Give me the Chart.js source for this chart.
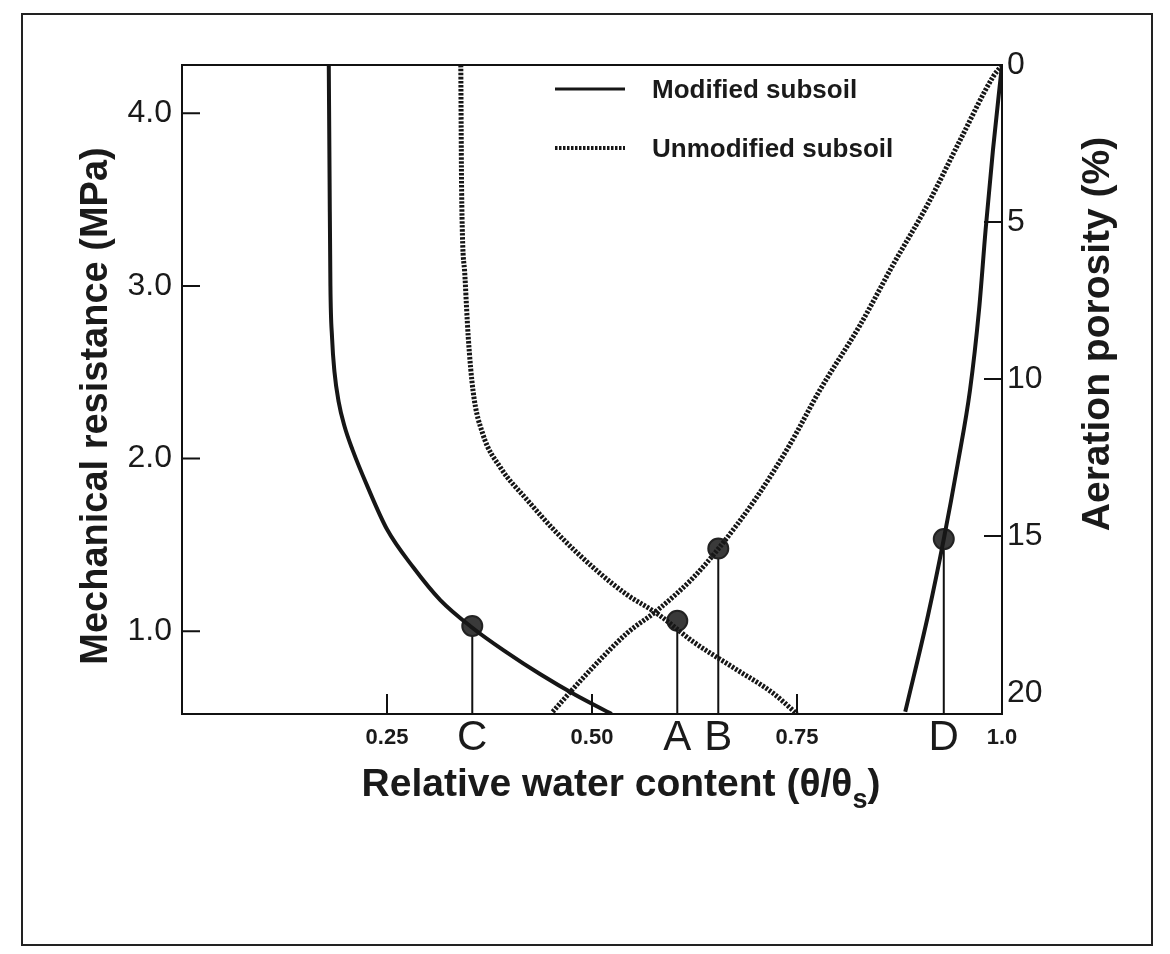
<!DOCTYPE html>
<html lang="en">
<head>
<meta charset="UTF-8">
<title>Mechanical resistance and aeration porosity</title>
<script src="https://cdn.jsdelivr.net/npm/chart.js"></script>
<style>
  html, body { margin: 0; padding: 0; background: #fff; }
  #wrap { width: 1170px; height: 954px; }
</style>
</head>
<body>
<div id="wrap"><canvas id="chart" width="1170" height="954"></canvas></div>
<script>
// relative water content (theta / theta_s) on x
// mechanical resistance (MPa), left axis
const modifiedResX   = [0.179, 0.180, 0.181, 0.183, 0.186, 0.191, 0.198, 0.208, 0.226, 0.250, 0.282, 0.315, 0.354, 0.395, 0.437, 0.480, 0.524];
const modifiedRes    = [4.28, 3.60, 3.00, 2.70, 2.50, 2.33, 2.19, 2.05, 1.84, 1.59, 1.37, 1.18, 1.02, 0.88, 0.75, 0.63, 0.52];
const unmodifiedResX = [0.340, 0.341, 0.345, 0.349, 0.355, 0.367, 0.388, 0.421, 0.457, 0.506, 0.543, 0.580, 0.623, 0.672, 0.721, 0.750];
const unmodifiedRes  = [4.28, 3.55, 3.06, 2.71, 2.39, 2.14, 1.95, 1.76, 1.57, 1.35, 1.21, 1.10, 0.94, 0.79, 0.64, 0.52];

// aeration porosity (%), right axis (reversed)
const modifiedPorX   = [0.882, 0.910, 0.929, 0.946, 0.961, 0.972, 0.980, 0.989, 1.0];
const modifiedPor    = [20.6, 17.5, 15.1, 12.7, 10.35, 7.8, 5.25, 2.7, 0];
const unmodifiedPorX = [0.452, 0.498, 0.543, 0.580, 0.623, 0.654, 0.701, 0.741, 0.778, 0.827, 0.867, 0.909, 0.949, 0.989, 1.0];
const unmodifiedPor  = [20.6, 19.27, 18.09, 17.36, 16.34, 15.41, 13.76, 12.10, 10.35, 8.28, 6.37, 4.46, 2.39, 0.38, 0];

// marked points with drop lines
const markerLabels = ['C', 'A', 'B', 'D'];
const markerX      = [0.354, 0.604, 0.654, 0.929];
const markerY      = [1.03, 1.06, 15.4, 15.1];
const markerAxis   = ['yRes', 'yRes', 'yPor', 'yPor'];

const xTicks   = [0.25, 0.5, 0.75, 1.0];
const resTicks = [1, 2, 3, 4];
const porTicks = [0, 5, 10, 15, 20];
const resRange = [0.52, 4.28];
const porRange = [0, 20.67];

const seriesNames = ['Modified subsoil', 'Unmodified subsoil'];

const FONT = '"Liberation Sans", Arial, sans-serif';
Chart.defaults.font.family = FONT;
Chart.defaults.color = '#1a1a1a';

function pts(xs, ys) {
    return xs.map((x, i) => ({ x: x, y: ys[i] }));
}

const solid = { borderColor: '#161616', borderWidth: 4, pointRadius: 0, cubicInterpolationMode: 'monotone', fill: false };
const dotted = { borderColor: '#161616', borderWidth: 5, borderDash: [2.5, 1.5], pointRadius: 0, cubicInterpolationMode: 'monotone', fill: false };

const datasets = [
    Object.assign({ label: seriesNames[0], data: pts(modifiedResX, modifiedRes), yAxisID: 'yRes' }, solid),
    Object.assign({ label: seriesNames[1], data: pts(unmodifiedResX, unmodifiedRes), yAxisID: 'yRes' }, dotted),
    Object.assign({ label: seriesNames[0], data: pts(modifiedPorX, modifiedPor), yAxisID: 'yPor' }, solid),
    Object.assign({ label: seriesNames[1], data: pts(unmodifiedPorX, unmodifiedPor), yAxisID: 'yPor' }, dotted)
];

markerLabels.forEach((name, i) => {
    const bottom = markerAxis[i] === 'yRes' ? resRange[0] : porRange[1];
    datasets.push({
        label: name,
        data: [{ x: markerX[i], y: markerY[i] }, { x: markerX[i], y: bottom }],
        yAxisID: markerAxis[i],
        borderColor: '#111',
        borderWidth: 2,
        pointRadius: [10, 0],
        pointBackgroundColor: '#3a3a3a',
        pointBorderColor: '#222',
        pointBorderWidth: 2,
        tension: 0
    });
});

function rotatedText(ctx, text, x, y) {
    ctx.save();
    ctx.translate(x, y);
    ctx.rotate(-Math.PI / 2);
    ctx.fillText(text, 0, 0);
    ctx.restore();
}

const decor = {
    id: 'decor',
    beforeDraw(chart) {
        const ctx = chart.ctx;
        ctx.save();
        ctx.fillStyle = '#fff';
        ctx.fillRect(0, 0, chart.width, chart.height);
        ctx.strokeStyle = '#222';
        ctx.lineWidth = 2;
        ctx.strokeRect(22, 14, 1130, 931);
        ctx.restore();
    },
    afterDatasetsDraw(chart) {
        const ctx = chart.ctx;
        const a = chart.chartArea;
        const sx = chart.scales.x, sr = chart.scales.yRes, sp = chart.scales.yPor;
        ctx.save();

        // frame
        ctx.strokeStyle = '#111';
        ctx.lineWidth = 2;
        ctx.strokeRect(a.left, a.top, a.right - a.left, a.bottom - a.top);

        // ticks pointing inwards
        ctx.beginPath();
        xTicks.forEach(v => {
            if (v >= 1) return;
            const px = sx.getPixelForValue(v);
            ctx.moveTo(px, a.bottom);
            ctx.lineTo(px, a.bottom - 20);
        });
        resTicks.forEach(v => {
            const py = sr.getPixelForValue(v);
            ctx.moveTo(a.left, py);
            ctx.lineTo(a.left + 18, py);
        });
        porTicks.forEach(v => {
            if (v <= 0 || v >= 20) return;
            const py = sp.getPixelForValue(v);
            ctx.moveTo(a.right, py);
            ctx.lineTo(a.right - 18, py);
        });
        ctx.stroke();

        // letters under the drop lines
        ctx.fillStyle = '#1a1a1a';
        ctx.font = '42px ' + FONT;
        ctx.textAlign = 'center';
        ctx.textBaseline = 'middle';
        markerLabels.forEach((name, i) => {
            ctx.fillText(name, sx.getPixelForValue(markerX[i]), 738);
        });

        // axis titles
        ctx.textBaseline = 'middle';
        ctx.font = 'bold 38px ' + FONT;
        rotatedText(ctx, 'Mechanical resistance (MPa)', 97, 406);
        ctx.font = 'bold 39px ' + FONT;
        rotatedText(ctx, 'Aeration porosity (%)', 1098, 334);

        const main = 'Relative water content (\u03b8/\u03b8';
        ctx.textAlign = 'left';
        ctx.textBaseline = 'alphabetic';
        ctx.font = 'bold 39px ' + FONT;
        const wMain = ctx.measureText(main).width;
        const wEnd = ctx.measureText(')').width;
        ctx.font = 'bold 27px ' + FONT;
        const wSub = ctx.measureText('s').width;
        let tx = 621 - (wMain + wSub + wEnd) / 2;
        ctx.font = 'bold 39px ' + FONT;
        ctx.fillText(main, tx, 796);
        tx += wMain;
        ctx.font = 'bold 27px ' + FONT;
        ctx.fillText('s', tx, 808);
        tx += wSub;
        ctx.font = 'bold 39px ' + FONT;
        ctx.fillText(')', tx, 796);

        // legend
        const legendRows = [{ ds: chart.data.datasets[0], y: 89 }, { ds: chart.data.datasets[1], y: 148 }];
        legendRows.forEach(row => {
            ctx.beginPath();
            ctx.strokeStyle = row.ds.borderColor;
            ctx.lineWidth = row.ds.borderDash ? 4 : 3;
            ctx.setLineDash(row.ds.borderDash || []);
            ctx.moveTo(555, row.y);
            ctx.lineTo(625, row.y);
            ctx.stroke();
            ctx.setLineDash([]);
            ctx.fillStyle = '#1a1a1a';
            ctx.font = 'bold 26px ' + FONT;
            ctx.textAlign = 'left';
            ctx.textBaseline = 'middle';
            ctx.fillText(row.ds.label, 652, row.y + 2);
        });

        ctx.restore();
    }
};

new Chart(document.getElementById('chart'), {
    type: 'line',
    data: { datasets: datasets },
    options: {
        responsive: false,
        animation: false,
        devicePixelRatio: 1,
        layout: { padding: { top: 65 } },
        plugins: { legend: { display: false }, tooltip: { enabled: false } },
        scales: {
            x: {
                type: 'linear',
                position: 'bottom',
                min: 0,
                max: 1,
                afterFit: s => { s.height = 240; },
                afterBuildTicks: s => { s.ticks = xTicks.map(v => ({ value: v })); },
                grid: { display: false, drawTicks: false },
                border: { display: false },
                ticks: {
                    padding: 11,
                    maxRotation: 0,
                    autoSkip: false,
                    font: { size: 22, weight: 'bold' },
                    callback: v => v >= 1 ? '1.0' : v.toFixed(2)
                }
            },
            yRes: {
                type: 'linear',
                position: 'left',
                min: resRange[0],
                max: resRange[1],
                afterFit: s => { s.width = 182; },
                afterBuildTicks: s => { s.ticks = resTicks.map(v => ({ value: v })); },
                grid: { display: false, drawTicks: false },
                border: { display: false },
                ticks: { padding: 10, font: { size: 32 }, callback: v => v.toFixed(1) }
            },
            yPor: {
                type: 'linear',
                position: 'right',
                reverse: true,
                min: porRange[0],
                max: porRange[1],
                afterFit: s => { s.width = 168; },
                afterBuildTicks: s => { s.ticks = porTicks.map(v => ({ value: v })); },
                grid: { display: false, drawTicks: false },
                border: { display: false },
                ticks: { padding: 5, font: { size: 32 }, callback: v => String(v) }
            }
        }
    },
    plugins: [decor]
});
</script>
</body>
</html>
